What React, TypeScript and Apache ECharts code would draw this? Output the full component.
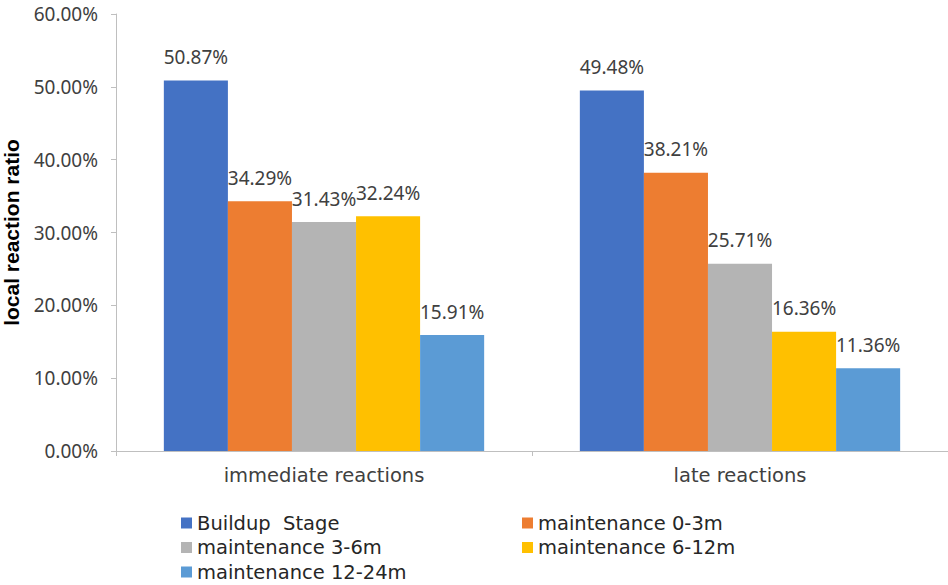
import React, { useEffect, useRef } from "react";
import * as echarts from "echarts";

const categories = ["immediate reactions", "late reactions"];
const seriesNames = [
  "Buildup  Stage",
  "maintenance 0-3m",
  "maintenance 3-6m",
  "maintenance 6-12m",
  "maintenance 12-24m",
];
const buildup = [50.87, 49.48];
const m0_3 = [34.29, 38.21];
const m3_6 = [31.43, 25.71];
const m6_12 = [32.24, 16.36];
const m12_24 = [15.91, 11.36];
const colors = ["#4472C4", "#ED7D31", "#B4B4B4", "#FFC000", "#5B9BD5"];

const FONT = "Noto Sans";
const WFONT = "DejaVu Sans";
const TEXT = "#404040";

export default function App() {
  const ref = useRef<HTMLDivElement>(null);
  useEffect(() => {
    document.body.style.margin = "0";
    if (!ref.current) return;
    const chart = echarts.init(ref.current, undefined, { renderer: "svg" });
    const values = [buildup, m0_3, m3_6, m6_12, m12_24];
    const legendCommon = {
      orient: "vertical",
      icon: "rect",
      itemWidth: 11,
      itemHeight: 11,
      itemGap: 3.5,
      padding: 0,
      textStyle: { fontFamily: WFONT, fontSize: 19.5, lineHeight: 21, color: "#262626" },
    };
    chart.setOption({
      animation: false,
      textStyle: { fontFamily: FONT },
      grid: { left: 116, right: 0, top: 14, bottom: 134, outerBoundsMode: "none" },
      legend: [
        { ...legendCommon, left: 181, top: 512.5, data: [seriesNames[0], seriesNames[2], seriesNames[4]] },
        { ...legendCommon, left: 522, top: 512.5, data: [seriesNames[1], seriesNames[3]] },
      ],
      xAxis: {
        type: "category",
        data: categories,
        axisLine: { lineStyle: { color: "#BFBFBF" } },
        axisTick: { show: true, length: 5, lineStyle: { color: "#BFBFBF" } },
        axisLabel: { fontFamily: WFONT, fontSize: 19.5, color: TEXT, margin: 14 },
      },
      yAxis: {
        type: "value",
        min: 0,
        max: 60,
        interval: 10,
        name: "local reaction ratio",
        nameLocation: "middle",
        nameGap: 94,
        nameTextStyle: { fontFamily: "Liberation Sans", fontSize: 21, fontWeight: "bold", color: "#000" },
        axisLine: { show: true, lineStyle: { color: "#BFBFBF" } },
        axisTick: { show: true, length: 5, lineStyle: { color: "#BFBFBF" } },
        splitLine: { show: false },
        axisLabel: {
          fontFamily: FONT,
          fontSize: 19,
          color: TEXT,
          margin: 18,
          formatter: (v: number) => v.toFixed(2) + "%",
        },
      },
      series: seriesNames.map((name, i) => ({
        name,
        type: "bar",
        data: values[i],
        barGap: "0%",
        barCategoryGap: "23%",
        itemStyle: { color: colors[i] },
        label: {
          show: true,
          position: "top",
          distance: 14,
          fontFamily: FONT,
          fontSize: 19,
          color: TEXT,
          formatter: (p: any) => p.value.toFixed(2) + "%",
        },
      })),
    });
    return () => chart.dispose();
  }, []);
  return <div ref={ref} style={{ width: 948, height: 585 }} />;
}
